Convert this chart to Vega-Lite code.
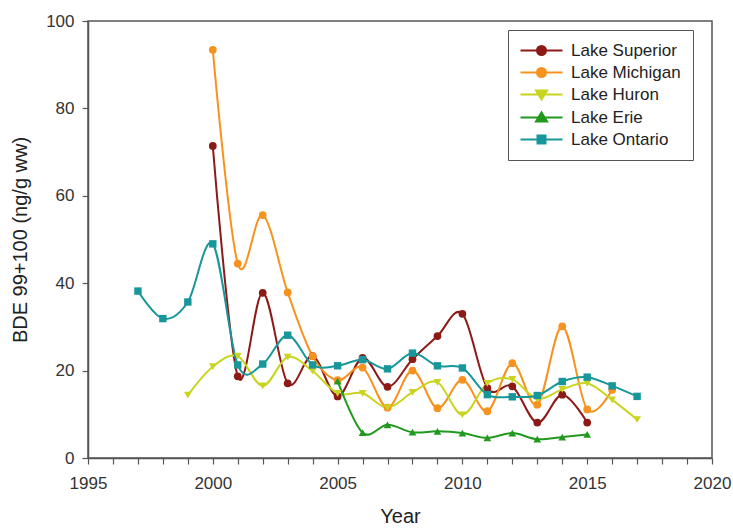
{
  "$schema": "https://vega.github.io/schema/vega-lite/v6.json",
  "width": 624,
  "height": 437,
  "autosize": {"type": "none"},
  "padding": {"left": 88, "top": 21, "right": 21, "bottom": 71},
  "background": "white",
  "config": {
    "font": "Liberation Sans",
    "view": {"stroke": "#555", "strokeWidth": 1.5},
    "axis": {
      "domainColor": "#555", "domainWidth": 1.5, "tickColor": "#555", "tickWidth": 1.2, "tickSize": 6,
      "labelColor": "#333", "labelFontSize": 17, "titleColor": "#222", "titleFontSize": 20, "titleFontWeight": "normal", "grid": false
    }
  },
  "data": {"values": [
    {"lake":"Lake Superior","year":2000,"value":71.4},
    {"lake":"Lake Superior","year":2001,"value":18.7},
    {"lake":"Lake Superior","year":2002,"value":37.8},
    {"lake":"Lake Superior","year":2003,"value":17.1},
    {"lake":"Lake Superior","year":2004,"value":23.3},
    {"lake":"Lake Superior","year":2005,"value":14.1},
    {"lake":"Lake Superior","year":2006,"value":22.9},
    {"lake":"Lake Superior","year":2007,"value":16.3},
    {"lake":"Lake Superior","year":2008,"value":22.6},
    {"lake":"Lake Superior","year":2009,"value":27.9},
    {"lake":"Lake Superior","year":2010,"value":33.0},
    {"lake":"Lake Superior","year":2011,"value":16.0},
    {"lake":"Lake Superior","year":2012,"value":16.4},
    {"lake":"Lake Superior","year":2013,"value":8.1},
    {"lake":"Lake Superior","year":2014,"value":14.5},
    {"lake":"Lake Superior","year":2015,"value":8.1},
    {"lake":"Lake Michigan","year":2000,"value":93.4},
    {"lake":"Lake Michigan","year":2001,"value":44.5},
    {"lake":"Lake Michigan","year":2002,"value":55.6},
    {"lake":"Lake Michigan","year":2003,"value":37.9},
    {"lake":"Lake Michigan","year":2004,"value":23.3},
    {"lake":"Lake Michigan","year":2005,"value":17.8},
    {"lake":"Lake Michigan","year":2006,"value":20.7},
    {"lake":"Lake Michigan","year":2007,"value":11.5},
    {"lake":"Lake Michigan","year":2008,"value":20.0},
    {"lake":"Lake Michigan","year":2009,"value":11.4},
    {"lake":"Lake Michigan","year":2010,"value":17.9},
    {"lake":"Lake Michigan","year":2011,"value":10.7},
    {"lake":"Lake Michigan","year":2012,"value":21.7},
    {"lake":"Lake Michigan","year":2013,"value":12.2},
    {"lake":"Lake Michigan","year":2014,"value":30.1},
    {"lake":"Lake Michigan","year":2015,"value":11.1},
    {"lake":"Lake Michigan","year":2016,"value":15.6},
    {"lake":"Lake Huron","year":1999,"value":14.4},
    {"lake":"Lake Huron","year":2000,"value":20.9},
    {"lake":"Lake Huron","year":2001,"value":23.3},
    {"lake":"Lake Huron","year":2002,"value":16.5},
    {"lake":"Lake Huron","year":2003,"value":23.1},
    {"lake":"Lake Huron","year":2004,"value":19.9},
    {"lake":"Lake Huron","year":2005,"value":14.8},
    {"lake":"Lake Huron","year":2006,"value":14.8},
    {"lake":"Lake Huron","year":2007,"value":11.5},
    {"lake":"Lake Huron","year":2008,"value":15.0},
    {"lake":"Lake Huron","year":2009,"value":17.3},
    {"lake":"Lake Huron","year":2010,"value":9.9},
    {"lake":"Lake Huron","year":2011,"value":17.1},
    {"lake":"Lake Huron","year":2012,"value":18.0},
    {"lake":"Lake Huron","year":2013,"value":13.5},
    {"lake":"Lake Huron","year":2014,"value":15.7},
    {"lake":"Lake Huron","year":2015,"value":17.1},
    {"lake":"Lake Huron","year":2016,"value":13.3},
    {"lake":"Lake Huron","year":2017,"value":8.8},
    {"lake":"Lake Erie","year":2005,"value":17.6},
    {"lake":"Lake Erie","year":2006,"value":5.8},
    {"lake":"Lake Erie","year":2007,"value":7.6},
    {"lake":"Lake Erie","year":2008,"value":5.9},
    {"lake":"Lake Erie","year":2009,"value":6.1},
    {"lake":"Lake Erie","year":2010,"value":5.7},
    {"lake":"Lake Erie","year":2011,"value":4.6},
    {"lake":"Lake Erie","year":2012,"value":5.7},
    {"lake":"Lake Erie","year":2013,"value":4.3},
    {"lake":"Lake Erie","year":2014,"value":4.8},
    {"lake":"Lake Erie","year":2015,"value":5.4},
    {"lake":"Lake Ontario","year":1997,"value":38.2},
    {"lake":"Lake Ontario","year":1998,"value":31.9},
    {"lake":"Lake Ontario","year":1999,"value":35.7},
    {"lake":"Lake Ontario","year":2000,"value":49.0},
    {"lake":"Lake Ontario","year":2001,"value":21.3},
    {"lake":"Lake Ontario","year":2002,"value":21.5},
    {"lake":"Lake Ontario","year":2003,"value":28.1},
    {"lake":"Lake Ontario","year":2004,"value":21.3},
    {"lake":"Lake Ontario","year":2005,"value":21.1},
    {"lake":"Lake Ontario","year":2006,"value":22.5},
    {"lake":"Lake Ontario","year":2007,"value":20.4},
    {"lake":"Lake Ontario","year":2008,"value":24.0},
    {"lake":"Lake Ontario","year":2009,"value":21.1},
    {"lake":"Lake Ontario","year":2010,"value":20.6},
    {"lake":"Lake Ontario","year":2011,"value":14.5},
    {"lake":"Lake Ontario","year":2012,"value":14.0},
    {"lake":"Lake Ontario","year":2013,"value":14.3},
    {"lake":"Lake Ontario","year":2014,"value":17.5},
    {"lake":"Lake Ontario","year":2015,"value":18.5},
    {"lake":"Lake Ontario","year":2016,"value":16.5},
    {"lake":"Lake Ontario","year":2017,"value":14.1}
  ]},
  "encoding": {
    "x": {
      "field": "year", "type": "quantitative",
      "scale": {"domain": [1995, 2020], "nice": false, "zero": false},
      "axis": {
        "title": "Year",
        "values": [1995,1996,1997,1998,1999,2000,2001,2002,2003,2004,2005,2006,2007,2008,2009,2010,2011,2012,2013,2014,2015,2016,2017,2018,2019,2020],
        "labelExpr": "datum.value % 5 === 0 ? format(datum.value, 'd') : ''",
        "labelPadding": 11, "titlePadding": 15, "labelFlush": false, "labelOverlap": false
      }
    },
    "y": {
      "field": "value", "type": "quantitative",
      "scale": {"domain": [0, 100], "nice": false},
      "axis": {"title": "BDE 99+100 (ng/g ww)", "values": [0,20,40,60,80,100], "labelPadding": 8, "titlePadding": 15}
    },
    "color": {
      "field": "lake", "type": "nominal",
      "scale": {
        "domain": ["Lake Superior","Lake Michigan","Lake Huron","Lake Erie","Lake Ontario"],
        "range": ["#8c1a16","#f7921f","#c9d420","#21991f","#17979a"]
      },
      "legend": {
        "title": null, "orient": "none", "legendX": 420, "legendY": 9, "padding": 12,
        "strokeColor": "#555", "labelFontSize": 17, "labelColor": "#222",
        "symbolSize": 100, "symbolStrokeWidth": 2, "symbolOffset": 13, "labelOffset": 21, "rowPadding": 4
      }
    }
  },
  "layer": [
    {
      "mark": {"type": "line", "interpolate": "cardinal", "strokeWidth": 2}
    },
    {
      "transform": [{"filter": {"field": "lake", "oneOf": ["Lake Superior", "Lake Michigan"]}}],
      "mark": {"type": "point", "filled": true, "size": 60, "opacity": 1, "shape": "circle"}
    },
    {
      "transform": [{"filter": {"field": "lake", "equal": "Lake Huron"}}],
      "mark": {"type": "point", "filled": true, "size": 60, "opacity": 1, "shape": "triangle-down"}
    },
    {
      "transform": [{"filter": {"field": "lake", "equal": "Lake Erie"}}],
      "mark": {"type": "point", "filled": true, "size": 60, "opacity": 1, "shape": "triangle-up"}
    },
    {
      "transform": [{"filter": {"field": "lake", "equal": "Lake Ontario"}}],
      "mark": {"type": "point", "filled": true, "size": 55, "opacity": 1, "shape": "square"}
    },
    {
      "transform": [{"filter": "false"}],
      "mark": {"type": "point", "filled": true, "strokeWidth": 2, "opacity": 1},
      "encoding": {
        "shape": {
          "field": "lake", "type": "nominal",
          "scale": {
            "domain": ["Lake Superior","Lake Michigan","Lake Huron","Lake Erie","Lake Ontario"],
            "range": [
              "M-4.2,0L4.2,0M0.9,0C0.9,0.497,0.497,0.9,0,0.9C-0.497,0.9,-0.9,0.497,-0.9,0C-0.9,-0.497,-0.497,-0.9,0,-0.9C0.497,-0.9,0.9,-0.497,0.9,0Z",
              "M-4.2,0L4.2,0M0.9,0C0.9,0.497,0.497,0.9,0,0.9C-0.497,0.9,-0.9,0.497,-0.9,0C-0.9,-0.497,-0.497,-0.9,0,-0.9C0.497,-0.9,0.9,-0.497,0.9,0Z",
              "M-4.2,0L4.2,0M-1.1,-0.8L1.1,-0.8L0,1Z",
              "M-4.2,0L4.2,0M-1.1,0.8L1.1,0.8L0,-1Z",
              "M-4.2,0L4.2,0M-0.8,-0.8L0.8,-0.8L0.8,0.8L-0.8,0.8Z"
            ]
          },
          "legend": {
            "title": null, "orient": "none", "legendX": 420, "legendY": 9, "padding": 12,
            "strokeColor": "#555", "labelFontSize": 17, "labelColor": "#222",
            "symbolSize": 100, "symbolStrokeWidth": 2, "symbolOffset": 13, "labelOffset": 21, "rowPadding": 4
          }
        }
      }
    }
  ]
}
